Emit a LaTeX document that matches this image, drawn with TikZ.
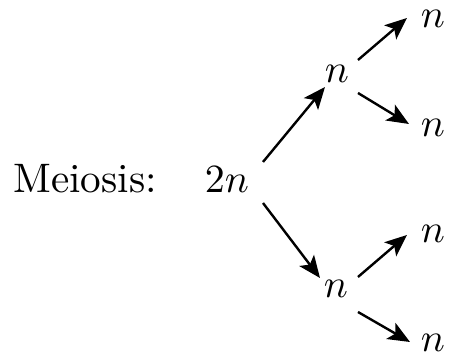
\documentclass[tikz,border=0pt]{standalone}
\usetikzlibrary{arrows.meta,calc}
\begin{document}
\begin{tikzpicture}[x=0.25pt,y=-0.25pt,
  lbl/.style={anchor=base,inner sep=0pt,font=\fontsize{10.3}{12}\selectfont},
  arr/.style={line width=0.6pt,-{Stealth[length=5.5pt,width=4.6pt,inset=1.3pt]}}]
\useasboundingbox (0,0) rectangle (455,361);
\node[lbl] (mei) at (85,193) {Meiosis:};
\node[lbl] (two) at (227,193) {$2n$};
\node[lbl] (u) at (337,83) {$n$};
\node[lbl] (d) at (336,298) {$n$};
\node[lbl] (uu) at (433,28) {$n$};
\node[lbl] (ud) at (433,137) {$n$};
\node[lbl] (du) at (433,243) {$n$};
\node[lbl] (dd) at (433,352) {$n$};
\draw[arr] ($(two.base)+(36,-31)$) -- ($(u.base)+(-12,4)$);
\draw[arr] ($(two.base)+(36,10)$) -- ($(d.base)+(-16,-20)$);
\draw[arr] ($(u.base)+(21,-23)$) -- ($(uu.base)+(-26,-10)$);
\draw[arr] ($(u.base)+(21,10)$) -- ($(ud.base)+(-24,-13)$);
\draw[arr] ($(d.base)+(22,-21)$) -- ($(du.base)+(-26,-8)$);
\draw[arr] ($(d.base)+(22,14)$) -- ($(dd.base)+(-23,-10)$);
\end{tikzpicture}
\end{document}
